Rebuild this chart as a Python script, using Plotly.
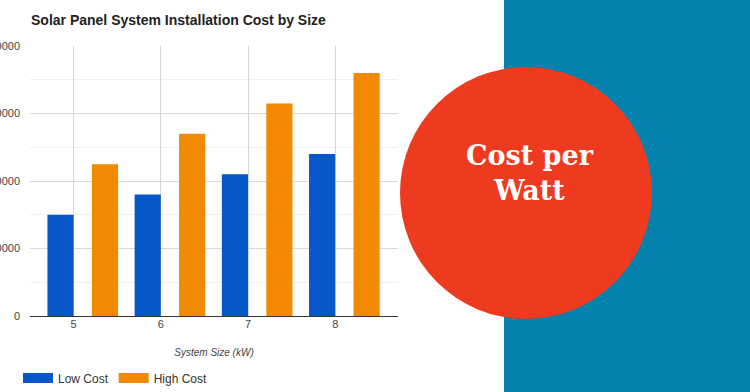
import plotly.graph_objects as go

sizes = [5, 6, 7, 8]
low_cost = [15000, 18000, 21000, 24000]
high_cost = [22500, 27000, 31500, 36000]
y_ticks = [0, 10000, 20000, 30000, 40000]
series_names = ["Low Cost", "High Cost"]
series_colors = ["#0757C9", "#F18A00"]

W, H = 750, 392
L, R, T, B = 30, 352, 46, 76
PW, PH = W - L - R, H - T - B


def px(x):
    return (x - L) / PW


def py(y):
    return (H - B - y) / PH


fig = go.Figure()
fig.add_trace(go.Bar(x=sizes, y=low_cost, name=series_names[0], marker_color=series_colors[0],
                     width=0.3, offset=-0.3, marker_line_width=0, showlegend=False))
fig.add_trace(go.Bar(x=sizes, y=high_cost, name=series_names[1], marker_color=series_colors[1],
                     width=0.3, offset=0.21, marker_line_width=0, showlegend=False))
# legend entries drawn as wide swatches
for name, color in zip(series_names, series_colors):
    fig.add_trace(go.Scatter(x=[None], y=[None], mode="lines", name=name,
                             line=dict(color=color, width=11)))

fig.update_layout(
    width=W, height=H,
    margin=dict(l=L, r=R, t=T, b=B, autoexpand=False),
    paper_bgcolor="white", plot_bgcolor="white",
    barmode="overlay",
    font=dict(family="Liberation Sans, Arial", color="#444", size=11),
    title=dict(text="<b>Solar Panel System Installation Cost by Size</b>",
               x=31 / W, xanchor="left", y=1 - 20 / H, yanchor="middle",
               font=dict(size=14, color="#222")),
    showlegend=True,
    legend=dict(orientation="h", x=px(18), xanchor="left", y=py(378), yanchor="middle",
                font=dict(size=12, color="#333"), bgcolor="rgba(0,0,0,0)", tracegroupgap=0),
)
fig.update_xaxes(
    range=[4.5, 8.72], tickvals=sizes, ticktext=[str(s) for s in sizes],
    showgrid=True, gridcolor="#d6d6d6", zeroline=False, automargin=False,
    showline=False, ticks="", tickfont=dict(size=11, color="#444"),
    title=dict(text="<i>System Size (kW)</i>", font=dict(size=10, color="#444"), standoff=19),
)
fig.update_yaxes(
    range=[0, 40000], tickvals=y_ticks, ticktext=[str(v) for v in y_ticks],
    showgrid=True, gridcolor="#d9d9d9", zeroline=True, zerolinecolor="#333", zerolinewidth=1,
    minor=dict(dtick=5000, showgrid=True, gridcolor="#efefef"), automargin=False,
    ticks="", ticklabelstandoff=9, tickfont=dict(size=11, color="#444"),
)

# decorative overlay: blue panel and red circle
fig.add_shape(type="rect", xref="paper", yref="paper", x0=px(504), x1=px(W + 5), y0=py(H + 5), y1=py(-5),
              line_width=0, fillcolor="#0581AD", layer="above")
fig.add_shape(type="circle", xref="paper", yref="paper",
              x0=px(400), x1=px(652), y0=py(319), y1=py(67),
              line_width=0, fillcolor="#EE3A1E", layer="above")
fig.add_annotation(text="<b>Cost per<br>Watt</b>", xref="paper", yref="paper",
                   x=px(530), y=py(173), xanchor="center", yanchor="middle",
                   showarrow=False, font=dict(family="DejaVu Serif", size=27, color="white"))

fig.write_html("out.html", config={"displayModeBar": False},
               post_script="document.body.style.margin='0';")
